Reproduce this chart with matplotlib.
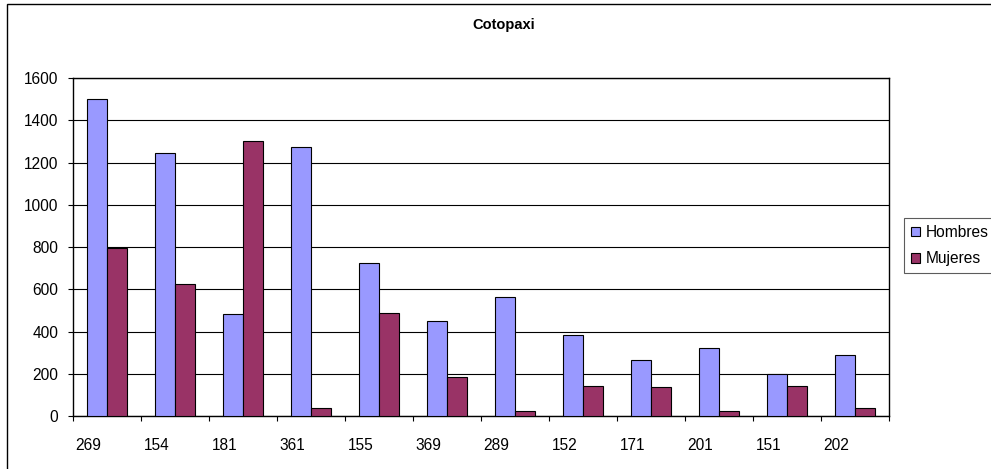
import matplotlib
matplotlib.use("Agg")
import matplotlib.pyplot as plt
import numpy as np
from matplotlib.patches import Rectangle

categories = ["269", "154", "181", "361", "155", "369", "289", "152", "171", "201", "151", "202"]
hombres = [1500, 1247, 481, 1273, 723, 450, 562, 382, 265, 320, 197, 290]
mujeres = [797, 623, 1303, 36, 486, 185, 24, 142, 136, 24, 142, 36]
series_names = ["Hombres", "Mujeres"]
title = "Cotopaxi"

plt.rcParams['font.family'] = ['Liberation Sans', 'DejaVu Sans']

W, H = 991, 469
fig = plt.figure(figsize=(W / 100, H / 100), dpi=100)
ax = fig.add_axes([73 / W, 1 - 416 / H, (889 - 73) / W, (416 - 78) / H])

x = np.arange(len(categories))
bw = 0.29
ax.bar(x - bw / 2, hombres, bw, color="#9999FF", edgecolor="black", linewidth=0.8, label=series_names[0], zorder=3)
ax.bar(x + bw / 2, mujeres, bw, color="#993366", edgecolor="black", linewidth=0.8, label=series_names[1], zorder=3)

ax.set_xlim(-0.5, len(categories) - 0.5)
ax.set_ylim(0, 1600)
ax.set_yticks(np.arange(0, 1601, 200))
ax.yaxis.grid(True, color="black", linewidth=0.8, zorder=0)
ax.set_axisbelow(True)

fs = 11.2
# category labels (offset left like the original) and boundary tick marks
ax.set_xticks(x - 0.275)
ax.set_xticklabels(categories)
ax.tick_params(axis="x", which="major", length=0, pad=16, labelsize=fs)
ax.set_xticks(np.arange(-0.5, len(categories) + 0.5, 1), minor=True)
ax.tick_params(axis="x", which="minor", length=3.6, width=0.8, color="black")
ax.tick_params(axis="y", length=3.6, width=0.8, pad=7, labelsize=fs)

for s in ax.spines.values():
    s.set_linewidth(1.0)
    s.set_color("black")

fig.text(504 / W, 1 - 25 / H, title, ha="center", va="center", fontsize=10.5, fontweight="bold")

leg = fig.legend(loc="upper left", bbox_to_anchor=(904 / W, 1 - 218 / H), frameon=True, fancybox=False,
                 fontsize=fs, handlelength=0.6, handleheight=0.6, handletextpad=0.35,
                 labelspacing=0.72, borderpad=0.45, borderaxespad=0)
leg.get_frame().set_edgecolor("#333333")
leg.get_frame().set_linewidth(0.8)
for h in leg.legend_handles:
    h.set_linewidth(0.8)

# outer chart border
fig.patches.append(Rectangle((7 / W, -0.1), 1.2, 1 - 4 / H + 0.1, transform=fig.transFigure,
                             fill=False, edgecolor="black", linewidth=1.0))

fig.savefig("out.png", dpi=100)
